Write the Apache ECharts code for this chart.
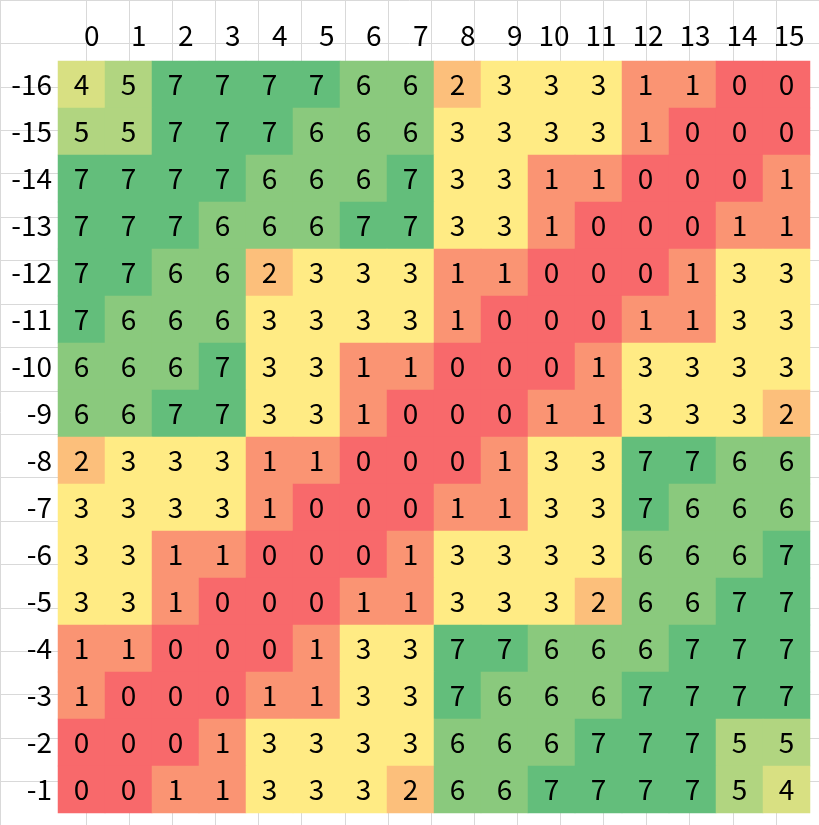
<!DOCTYPE html>
<html><head><meta charset="utf-8">
<script src="https://cdn.jsdelivr.net/npm/echarts@6/dist/echarts.min.js"></script>
<style>html,body{margin:0;padding:0;background:#fff}#c{width:819px;height:825px}</style>
</head><body><div id="c"></div>
<script>
const colLabels = ['0','1','2','3','4','5','6','7','8','9','10','11','12','13','14','15'];
const rowLabels = ['-16','-15','-14','-13','-12','-11','-10','-9','-8','-7','-6','-5','-4','-3','-2','-1'];
const rowM16 = [4,5,7,7,7,7,6,6,2,3,3,3,1,1,0,0];
const rowM15 = [5,5,7,7,7,6,6,6,3,3,3,3,1,0,0,0];
const rowM14 = [7,7,7,7,6,6,6,7,3,3,1,1,0,0,0,1];
const rowM13 = [7,7,7,6,6,6,7,7,3,3,1,0,0,0,1,1];
const rowM12 = [7,7,6,6,2,3,3,3,1,1,0,0,0,1,3,3];
const rowM11 = [7,6,6,6,3,3,3,3,1,0,0,0,1,1,3,3];
const rowM10 = [6,6,6,7,3,3,1,1,0,0,0,1,3,3,3,3];
const rowM9  = [6,6,7,7,3,3,1,0,0,0,1,1,3,3,3,2];
const rowM8  = [2,3,3,3,1,1,0,0,0,1,3,3,7,7,6,6];
const rowM7  = [3,3,3,3,1,0,0,0,1,1,3,3,7,6,6,6];
const rowM6  = [3,3,1,1,0,0,0,1,3,3,3,3,6,6,6,7];
const rowM5  = [3,3,1,0,0,0,1,1,3,3,3,2,6,6,7,7];
const rowM4  = [1,1,0,0,0,1,3,3,7,7,6,6,6,7,7,7];
const rowM3  = [1,0,0,0,1,1,3,3,7,6,6,6,7,7,7,7];
const rowM2  = [0,0,0,1,3,3,3,3,6,6,6,7,7,7,5,5];
const rowM1  = [0,0,1,1,3,3,3,2,6,6,7,7,7,7,5,4];
const rows = [rowM16,rowM15,rowM14,rowM13,rowM12,rowM11,rowM10,rowM9,rowM8,rowM7,rowM6,rowM5,rowM4,rowM3,rowM2,rowM1];
const levelValues = [0,1,2,3,4,5,6,7];
const levelColors = ['#F8696B','#FA9473','#FCBF7B','#FFEB84','#D8E082','#B1D580','#8AC97D','#63BE7B'];

const data = [];
rows.forEach((r, yi) => r.forEach((v, xi) => data.push([xi, yi, v])));

const FONT = '"Noto Sans CJK JP", "Noto Sans", sans-serif';
const FS = 28;
const gridColor = '#D9D9D9';
const vColors = [gridColor, 'rgba(0,0,0,0)'];
for (let i = 0; i < 30; i++) vColors.push(gridColor);

const chart = echarts.init(document.getElementById('c'), null, {renderer: 'canvas'});
chart.setOption({
  backgroundColor: '#ffffff',
  animation: false,
  grid: [
    {left: 58, top: 61, width: 752, height: 752, containLabel: false},
    {left: -36, top: -33, width: 893, height: 893, containLabel: false, z: 0}
  ],
  xAxis: [
    {type: 'category', gridIndex: 0, position: 'top', data: colLabels,
     axisLine: {show: false}, axisTick: {show: false}, splitLine: {show: false},
     axisLabel: {interval: 0, margin: 26, verticalAlign: 'middle',
       formatter: v => '{a|' + v + '}',
       rich: {a: {width: 36, align: 'right', fontSize: FS, fontFamily: FONT, color: '#000'}}}},
    {type: 'value', gridIndex: 1, min: 0, max: 19, interval: 1,
     axisLine: {show: false}, axisTick: {show: false}, axisLabel: {show: false},
     splitLine: {show: true, showMinLine: true, showMaxLine: true, lineStyle: {color: vColors, width: 1}}}
  ],
  yAxis: [
    {type: 'category', gridIndex: 0, inverse: true, data: rowLabels,
     axisLine: {show: false}, axisTick: {show: false}, splitLine: {show: false},
     axisLabel: {interval: 0, margin: 6, fontSize: FS, fontFamily: FONT, color: '#000'}},
    {type: 'value', gridIndex: 1, min: 0, max: 19, interval: 1,
     axisLine: {show: false}, axisTick: {show: false}, axisLabel: {show: false},
     splitLine: {show: true, showMinLine: true, showMaxLine: true, lineStyle: {color: gridColor, width: 1}}}
  ],
  visualMap: {
    type: 'piecewise', show: false, seriesIndex: 0, dimension: 2,
    pieces: levelValues.map((v, i) => ({value: v, color: levelColors[i]}))
  },
  series: [{
    type: 'heatmap', xAxisIndex: 0, yAxisIndex: 0, data: data,
    itemStyle: {borderWidth: 0},
    label: {show: true, fontSize: FS, fontFamily: FONT, color: '#000'},
    emphasis: {disabled: true}
  }]
});
</script></body></html>
